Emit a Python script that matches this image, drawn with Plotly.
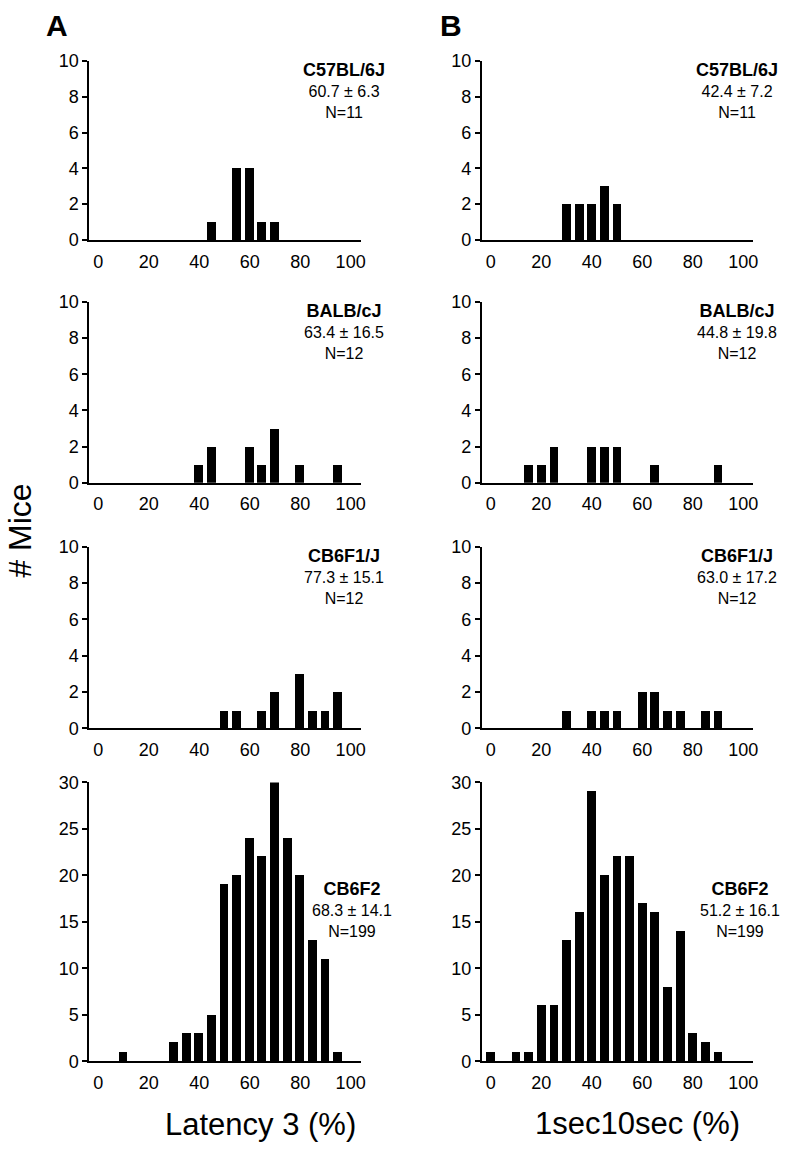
import plotly.graph_objects as go

# ---------------- data ----------------
# Column A: Latency 3 (%)
lat_c57_bins = [45, 55, 60, 65, 70]
lat_c57_counts = [1, 4, 4, 1, 1]
lat_balb_bins = [40, 45, 60, 65, 70, 80, 95]
lat_balb_counts = [1, 2, 2, 1, 3, 1, 1]
lat_cb6f1_bins = [50, 55, 65, 70, 80, 85, 90, 95]
lat_cb6f1_counts = [1, 1, 1, 2, 3, 1, 1, 2]
lat_cb6f2_bins = [10, 30, 35, 40, 45, 50, 55, 60, 65, 70, 75, 80, 85, 90, 95]
lat_cb6f2_counts = [1, 2, 3, 3, 5, 19, 20, 24, 22, 30, 24, 20, 13, 11, 1]

# Column B: 1sec10sec (%)
sec_c57_bins = [30, 35, 40, 45, 50]
sec_c57_counts = [2, 2, 2, 3, 2]
sec_balb_bins = [15, 20, 25, 40, 45, 50, 65, 90]
sec_balb_counts = [1, 1, 2, 2, 2, 2, 1, 1]
sec_cb6f1_bins = [30, 40, 45, 50, 60, 65, 70, 75, 85, 90]
sec_cb6f1_counts = [1, 1, 1, 1, 2, 2, 1, 1, 1, 1]
sec_cb6f2_bins = [0, 10, 15, 20, 25, 30, 35, 40, 45, 50, 55, 60, 65, 70, 75, 80, 85, 90]
sec_cb6f2_counts = [1, 1, 1, 6, 6, 13, 16, 29, 20, 22, 22, 17, 16, 8, 14, 3, 2, 1]

strains = ["C57BL/6J", "BALB/cJ", "CB6F1/J", "CB6F2"]
lat_stats = ["60.7 ± 6.3", "63.4 ± 16.5", "77.3 ± 15.1", "68.3 ± 14.1"]
sec_stats = ["42.4 ± 7.2", "44.8 ± 19.8", "63.0 ± 17.2", "51.2 ± 16.1"]
ns = ["N=11", "N=12", "N=12", "N=199"]

x_ticks = [0, 20, 40, 60, 80, 100]
y_ticks_small = [0, 2, 4, 6, 8, 10]
y_ticks_large = [0, 5, 10, 15, 20, 25, 30]

col_titles = ["Latency 3 (%)", "1sec10sec (%)"]
panel_letters = ["A", "B"]
y_title = "# Mice"

# ---------------- layout ----------------
W, H = 800, 1156
FONT = "Liberation Sans, Arial, Helvetica, sans-serif"
col_px = [(90, 363), (485, 758)]
row_px = [(52, 234), (297, 481), (546, 731), (786, 1070)]

def px_x(a, b):
    return [a / W, b / W]

def px_y(top, bot):
    return [1 - bot / H, 1 - top / H]

lat = [(lat_c57_bins, lat_c57_counts), (lat_balb_bins, lat_balb_counts),
       (lat_cb6f1_bins, lat_cb6f1_counts), (lat_cb6f2_bins, lat_cb6f2_counts)]
sec = [(sec_c57_bins, sec_c57_counts), (sec_balb_bins, sec_balb_counts),
       (sec_cb6f1_bins, sec_cb6f1_counts), (sec_cb6f2_bins, sec_cb6f2_counts)]

fig = go.Figure()
layout = dict(
    width=W, height=H, margin=dict(l=0, r=0, t=0, b=0),
    paper_bgcolor="white", plot_bgcolor="white", showlegend=False,
    font=dict(family=FONT, color="black"),
    bargap=0,
)
annotations = []

idx = 0
for r in range(4):
    for c in range(2):
        idx += 1
        data = lat if c == 0 else sec
        stats = lat_stats if c == 0 else sec_stats
        bins, counts = data[r]
        xa = "x" if idx == 1 else f"x{idx}"
        ya = "y" if idx == 1 else f"y{idx}"
        fig.add_trace(go.Bar(x=bins, y=counts, width=3.5,
                             marker=dict(color="black", line=dict(width=0)),
                             xaxis=xa, yaxis=ya, hoverinfo="skip"))
        large = (r == 3)
        ymax = 30 if large else 10
        layout[f"xaxis{idx}"] = dict(
            domain=px_x(*col_px[c]), anchor=ya, range=[-3.5, 104],
            showline=True, linecolor="black", linewidth=2, showgrid=False,
            zeroline=False, tickvals=x_ticks, ticks="outside", ticklen=4,
            tickcolor="rgba(0,0,0,0)", tickfont=dict(size=18, family=FONT),
        )
        layout[f"yaxis{idx}"] = dict(
            domain=px_y(*row_px[r]), anchor=xa, range=[0, ymax],
            showline=True, linecolor="black", linewidth=2, showgrid=False,
            zeroline=False, tickvals=y_ticks_large if large else y_ticks_small,
            ticks="outside", ticklen=5, tickwidth=2, tickcolor="black",
            tickfont=dict(size=18, family=FONT),
        )
        if large:
            ax_x = 100.4 if c == 0 else 98.8
            ax_y = 16.3
        else:
            ax_x = 97.5
            ax_y = 8.35
        annotations.append(dict(
            xref=xa, yref=ya, x=ax_x, y=ax_y, xanchor="center", yanchor="middle",
            showarrow=False, align="center",
            text=f"<span style='font-size:18px'><b>{strains[r]}</b></span><br>{stats[r]}<br>{ns[r]}",
            font=dict(size=16, family=FONT, color="black"),
        ))

# column (x-axis) titles
annotations.append(dict(xref="paper", yref="paper", x=262 / W, y=1 - 1134 / H,
                        text=col_titles[0], showarrow=False, xanchor="center", yanchor="middle",
                        font=dict(size=31, family=FONT, color="black")))
annotations.append(dict(xref="paper", yref="paper", x=642 / W, y=1 - 1133 / H,
                        text=col_titles[1], showarrow=False, xanchor="center", yanchor="middle",
                        font=dict(size=31, family=FONT, color="black")))
# panel letters
annotations.append(dict(xref="paper", yref="paper", x=57 / W, y=1 - 16 / H,
                        text=f"<b>{panel_letters[0]}</b>", showarrow=False, xanchor="center", yanchor="middle",
                        font=dict(size=30, family=FONT, color="black")))
annotations.append(dict(xref="paper", yref="paper", x=454 / W, y=1 - 16 / H,
                        text=f"<b>{panel_letters[1]}</b>", showarrow=False, xanchor="center", yanchor="middle",
                        font=dict(size=30, family=FONT, color="black")))
# shared y title
annotations.append(dict(xref="paper", yref="paper", x=20 / W, y=1 - 530 / H,
                        text=y_title, showarrow=False, textangle=-90, xanchor="center", yanchor="middle",
                        font=dict(size=32, family=FONT, color="black")))

layout["annotations"] = annotations
fig.update_layout(**layout)
fig.write_html(
    "out.html",
    post_script="document.body.style.margin='0';document.body.style.padding='0';",
    config={"displayModeBar": False},
)
